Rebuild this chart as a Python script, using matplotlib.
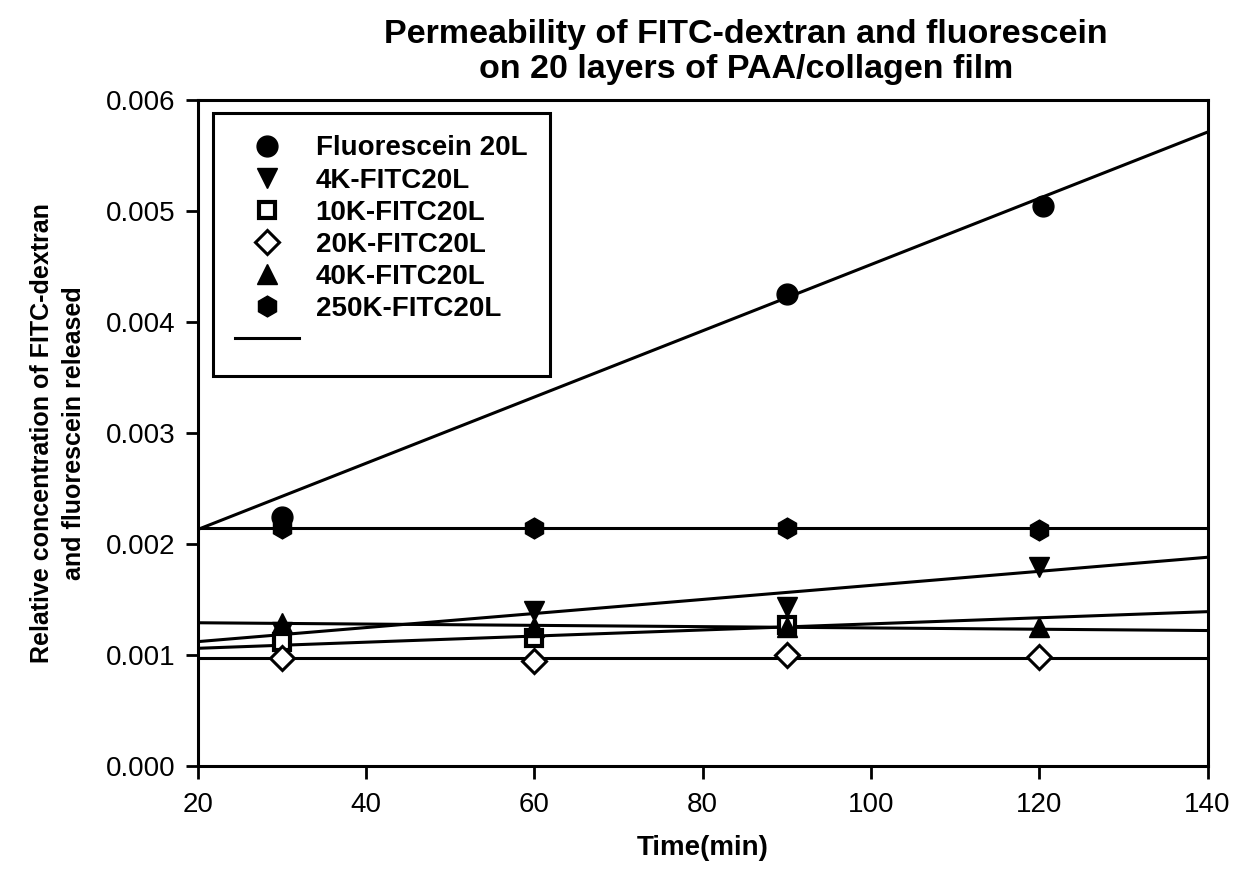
import matplotlib.pyplot as plt
import numpy as np

plt.rcParams['font.family'] = ['Liberation Sans', 'DejaVu Sans']

# sampling times (min)
time = [30, 60, 90, 120]
time_fl = [30, 90, 120.5]

# relative concentration
fluorescein = [0.00224, 0.00425, 0.00504]
k4 = [0.00121, 0.00140, 0.00143, 0.00179]
k10 = [0.00112, 0.00115, 0.00127, np.nan]
k20 = [0.00097, 0.00095, 0.00100, 0.00098]
k40 = [0.00129, 0.00125, 0.00125, 0.00125]
k250 = [0.00214, 0.00214, 0.00214, 0.00213]

# fitted lines, value at x=20 and x=140
fit_x = [20, 140]
fit_fl = [0.00213, 0.00571]
fit_k4 = [0.00112, 0.00188]
fit_k10 = [0.00106, 0.00139]
fit_k20 = [0.00097, 0.00097]
fit_k40 = [0.00129, 0.00122]
fit_k250 = [0.00214, 0.00214]

fig = plt.figure(figsize=(12.36, 8.73), dpi=100)
ax = fig.add_axes([0.160, 0.1226, 0.817, 0.763])

for fy in [fit_fl, fit_k4, fit_k10, fit_k20, fit_k40, fit_k250]:
    ax.plot(fit_x, fy, color='black', lw=2.2, zorder=2)

ax.plot(time_fl, fluorescein, 'o', color='black', ms=15, ls='none',
        label='Fluorescein 20L', zorder=3)
ax.plot(time, k4, 'v', color='black', ms=15, ls='none',
        label='4K-FITC20L', zorder=3)
ax.plot(time, k10, 's', mfc='white', mec='black', mew=3, ms=11, ls='none',
        label='10K-FITC20L', zorder=3)
ax.plot(time, k20, 'D', mfc='white', mec='black', mew=2.2, ms=12, ls='none',
        label='20K-FITC20L', zorder=3)
ax.plot(time, k40, '^', color='black', ms=15, ls='none',
        label='40K-FITC20L', zorder=3)
ax.plot(time, k250, 'h', color='black', ms=15, ls='none',
        label='250K-FITC20L', zorder=3)
ax.plot([], [], color='black', lw=2.2, label=' ')

ax.set_xlim(20, 140)
ax.set_ylim(0, 0.006)
ax.set_xticks(np.arange(20, 141, 20))
ax.set_yticks(np.arange(0, 0.0061, 0.001))
ax.set_yticklabels(['%.3f' % v for v in np.arange(0, 0.0061, 0.001)])
ax.tick_params(direction='out', length=9, width=2, labelsize=20)
ax.tick_params(axis='x', pad=10)
ax.tick_params(axis='y', pad=7)
for s in ax.spines.values():
    s.set_linewidth(2.2)

ax.set_xlabel('Time(min)', fontsize=20, fontweight='bold', labelpad=12)
ax.set_ylabel('Relative concentration of FITC-dextran\nand fluorescein released',
              fontsize=18, fontweight='bold', labelpad=14, linespacing=1.45)
ax.set_title('Permeability of FITC-dextran and fluorescein\non 20 layers of PAA/collagen film',
             fontsize=24.5, fontweight='bold', pad=16, linespacing=1.15, x=0.543)

leg = ax.legend(loc='upper left', bbox_to_anchor=(0.015, 0.98), borderaxespad=0,
                prop={'weight': 'bold', 'size': 20}, frameon=True, fancybox=False,
                edgecolor='black', borderpad=0.8, labelspacing=0.22,
                handlelength=2.3, handletextpad=0.6)
leg.get_frame().set_linewidth(2.2)
leg.get_frame().set_alpha(1)

fig.savefig('out.png', dpi=100)
